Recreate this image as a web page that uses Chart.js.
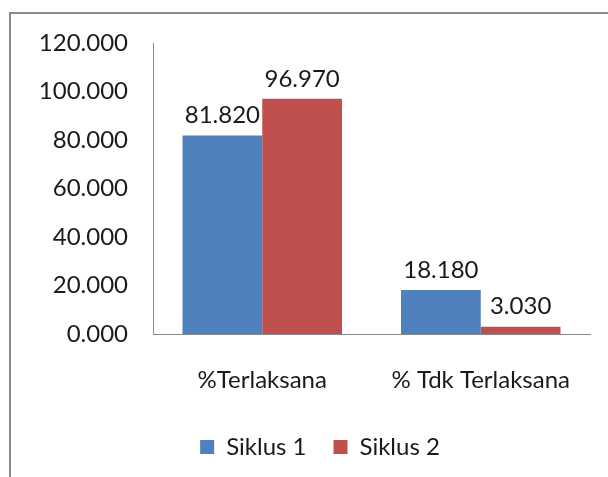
<!DOCTYPE html>
<html>
<head>
<meta charset="utf-8">
<script src="https://cdn.jsdelivr.net/npm/chart.js@4/dist/chart.umd.min.js"></script>
<style>
html,body{margin:0;padding:0;background:#fff;}
#wrap{width:608px;height:477px;position:relative;}
</style>
</head>
<body>
<div id="wrap"><canvas id="c" width="608" height="477"></canvas></div>
<script>
const categories = ["%Terlaksana", "% Tdk Terlaksana"];
const seriesNames = ["Siklus 1", "Siklus 2"];
const siklus1 = [81.82, 18.18];
const siklus2 = [96.97, 3.03];
const yTicks = [0, 20, 40, 60, 80, 100, 120];

const FONT = "Lato, 'Open Sans', sans-serif";
const FS = 24;
const TXT = "#1a1a1a";

const framePlugin = {
  id: 'frame',
  beforeDraw(chart) {
    const ctx = chart.ctx;
    ctx.save();
    ctx.fillStyle = '#fff';
    ctx.fillRect(0, 0, chart.width, chart.height);
    ctx.strokeStyle = '#8a8a8a';
    ctx.lineWidth = 2;
    ctx.strokeRect(10, 13, 700, 600);
    ctx.restore();
  }
};

const legendShift = {
  id: 'legendShift',
  afterLayout(chart) {
    const l = chart.legend;
    if (!l) return;
    const dx = 25, dy = -8;
    l.left += dx; l.right += dx; l.top += dy; l.bottom += dy;
  }
};

const labelPlugin = {
  id: 'barLabels',
  afterDatasetsDraw(chart) {
    const ctx = chart.ctx;
    ctx.save();
    ctx.font = FS + "px " + FONT;
    ctx.fillStyle = TXT;
    ctx.textAlign = 'center';
    ctx.textBaseline = 'bottom';
    chart.data.datasets.forEach((ds, i) => {
      const meta = chart.getDatasetMeta(i);
      meta.data.forEach((el, j) => {
        ctx.fillText(ds.data[j].toFixed(3), el.x, el.y - 8);
      });
    });
    ctx.restore();
  }
};

new Chart(document.getElementById('c'), {
  type: 'bar',
  data: {
    labels: categories,
    datasets: [
      { label: seriesNames[0], data: siklus1, backgroundColor: '#4F81BD', borderWidth: 0 },
      { label: seriesNames[1], data: siklus2, backgroundColor: '#C0504D', borderWidth: 0 }
    ]
  },
  options: {
    responsive: false,
    animation: false,
    devicePixelRatio: 1,
    layout: { padding: { top: 43, right: 18, bottom: 0, left: 0 } },
    datasets: { bar: { categoryPercentage: 0.73, barPercentage: 1.0 } },
    plugins: {
      legend: {
        position: 'bottom',
        labels: {
          font: { family: FONT, size: FS },
          color: TXT,
          boxWidth: 14,
          boxHeight: 14,
          padding: 27,
          useBorderRadius: false
        }
      },
      tooltip: { enabled: false }
    },
    scales: {
      x: {
        grid: { display: false, drawTicks: false },
        border: { display: true, color: '#8a8a8a', width: 1 },
        ticks: { font: { family: FONT, size: FS }, color: TXT, padding: 32 },
        afterFit(s) { s.height = 82; }
      },
      y: {
        min: 0, max: 120,
        afterBuildTicks(s) { s.ticks = yTicks.map(v => ({ value: v })); },
        grid: { display: false, drawTicks: false },
        border: { display: true, color: '#8a8a8a', width: 1 },
        ticks: {
          font: { family: FONT, size: FS }, color: TXT, padding: 25,
          callback: v => Number(v).toFixed(3)
        },
        afterFit(s) { s.width = 153; }
      }
    }
  },
  plugins: [framePlugin, legendShift, labelPlugin]
});
</script>
</body>
</html>
